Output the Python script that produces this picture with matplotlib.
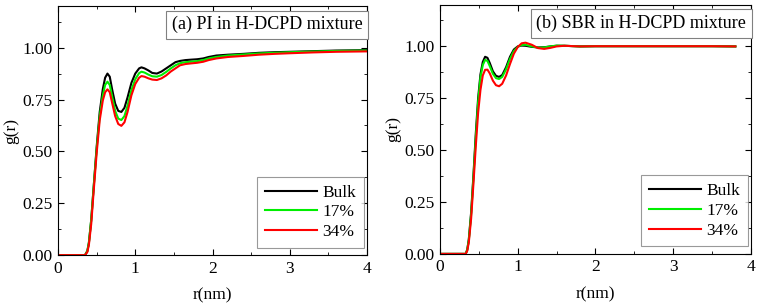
import numpy as np
import matplotlib.pyplot as plt
from matplotlib.ticker import MultipleLocator

plt.rcParams['font.family'] = ['Liberation Serif', 'DejaVu Serif']
plt.rcParams['font.size'] = 12.5

#Panel (a): PI in H-DCPD mixture
r_a = [0, 0.30, 0.35, 0.38, 0.40, 0.43, 0.46, 0.50, 0.54, 0.58, 0.61, 0.64, 0.67, 0.70,
       0.74, 0.78, 0.82, 0.86, 0.90, 0.95, 1.00, 1.05, 1.08, 1.12, 1.17, 1.22, 1.28,
       1.34, 1.40, 1.46, 1.52, 1.58, 1.65, 1.72, 1.80, 1.88, 1.95, 2.05, 2.2, 2.4,
       2.6, 2.8, 3.0, 3.3, 3.6, 4.0]
bulk_a = [0, 0, 0, 0.02, 0.06, 0.17, 0.32, 0.52, 0.69, 0.80, 0.855, 0.875, 0.86, 0.80,
          0.73, 0.695, 0.69, 0.71, 0.76, 0.83, 0.875, 0.90, 0.905, 0.90, 0.89, 0.878, 0.875,
          0.885, 0.90, 0.915, 0.93, 0.936, 0.94, 0.942, 0.944, 0.948, 0.955, 0.962, 0.966, 0.970,
          0.975, 0.978, 0.98, 0.983, 0.986, 0.988]
p17_a = [0, 0, 0, 0.02, 0.06, 0.17, 0.32, 0.51, 0.67, 0.77, 0.82, 0.836, 0.82, 0.765,
         0.695, 0.658, 0.651, 0.67, 0.72, 0.795, 0.848, 0.877, 0.884, 0.88, 0.87, 0.862, 0.860,
         0.868, 0.883, 0.90, 0.915, 0.925, 0.93, 0.932, 0.935, 0.94, 0.948, 0.955, 0.962, 0.967,
         0.972, 0.975, 0.978, 0.981, 0.984, 0.986]
p34_a = [0, 0, 0, 0.015, 0.05, 0.15, 0.30, 0.49, 0.65, 0.745, 0.785, 0.799, 0.785, 0.735,
         0.67, 0.632, 0.623, 0.64, 0.69, 0.77, 0.825, 0.855, 0.863, 0.86, 0.852, 0.846, 0.844,
         0.852, 0.866, 0.885, 0.90, 0.915, 0.921, 0.924, 0.927, 0.932, 0.94, 0.948, 0.955, 0.96,
         0.966, 0.97, 0.973, 0.977, 0.98, 0.982]

#Panel (b): SBR in H-DCPD mixture
r_b = [0, 0.30, 0.33, 0.35, 0.37, 0.40, 0.43, 0.46, 0.49, 0.52, 0.55, 0.58, 0.61, 0.64,
       0.68, 0.72, 0.76, 0.80, 0.85, 0.90, 0.95, 1.00, 1.05, 1.10, 1.18, 1.26, 1.34, 1.42,
       1.5, 1.6, 1.8, 2.0, 2.5, 3.0, 3.5, 3.8]
bulk_b = [0, 0, 0, 0.02, 0.07, 0.20, 0.38, 0.58, 0.75, 0.865, 0.925, 0.95, 0.945, 0.92,
          0.88, 0.858, 0.853, 0.862, 0.90, 0.95, 0.985, 1.0, 1.004, 1.003, 0.998, 0.995, 0.996, 1.0,
          1.003, 1.003, 1.0, 1.001, 1.001, 1.001, 1.001, 1.0]
p17_b = [0, 0, 0, 0.02, 0.065, 0.19, 0.37, 0.56, 0.73, 0.85, 0.91, 0.935, 0.93, 0.905,
         0.868, 0.847, 0.843, 0.853, 0.89, 0.94, 0.978, 0.998, 1.007, 1.008, 1.0, 0.994, 0.995, 1.0,
         1.004, 1.003, 1.0, 1.001, 1.001, 1.001, 1.001, 1.0]
p34_b = [0, 0, 0, 0.015, 0.055, 0.17, 0.34, 0.52, 0.68, 0.79, 0.86, 0.887, 0.888, 0.87,
         0.835, 0.813, 0.808, 0.82, 0.86, 0.915, 0.965, 0.997, 1.015, 1.018, 1.008, 0.992, 0.988, 0.993,
         1.0, 1.003, 1.0, 1.001, 1.001, 1.001, 1.001, 1.0]

labels = ['Bulk', '17%', '34%']
colors = ['black', '#00ee00', 'red']
titles = ['(a) PI in H-DCPD mixture', '(b) SBR in H-DCPD mixture']

fig = plt.figure(figsize=(7.6, 3.07), dpi=100)
ax1 = fig.add_axes([0.0763, 0.169, 0.4067, 0.811])
ax2 = fig.add_axes([0.579, 0.173, 0.409, 0.811])

panels = [(ax1, r_a, [bulk_a, p17_a, p34_a]), (ax2, r_b, [bulk_b, p17_b, p34_b])]
for k, (ax, r, ys) in enumerate(panels):
    for y, lab, c in zip(ys, labels, colors):
        ax.plot(r, y, color=c, lw=1.5, label=lab)
    ax.set_xlim(0, 4)
    ax.set_ylim(0, 1.2)
    ax.set_yticks([0, 0.25, 0.5, 0.75, 1.0])
    ax.set_yticklabels(['0.00', '0.25', '0.50', '0.75', '1.00'])
    ax.xaxis.set_minor_locator(MultipleLocator(0.5))
    ax.yaxis.set_minor_locator(MultipleLocator(0.125))
    ax.tick_params(which='both', direction='in', top=True, right=True)
    ax.tick_params(which='major', length=4, pad=4)
    ax.tick_params(which='minor', length=2.5)
    ax.set_xlabel('r(nm)', labelpad=8)
    ax.set_ylabel('g(r)', labelpad=2)
    ax.text(0.985, 0.96, titles[k], transform=ax.transAxes, ha='right', va='top',
            fontsize=13, bbox=dict(boxstyle='square,pad=0.3', fc='white', ec='gray', lw=0.8))
    leg = ax.legend(loc='lower right', bbox_to_anchor=(0.99, 0.03), borderaxespad=0,
                    fancybox=False, edgecolor='gray', handlelength=3, borderpad=0.45,
                    labelspacing=0.2, handletextpad=0.3, fontsize=12.5)
    leg.get_frame().set_linewidth(0.8)

fig.savefig('out.png', dpi=100)
